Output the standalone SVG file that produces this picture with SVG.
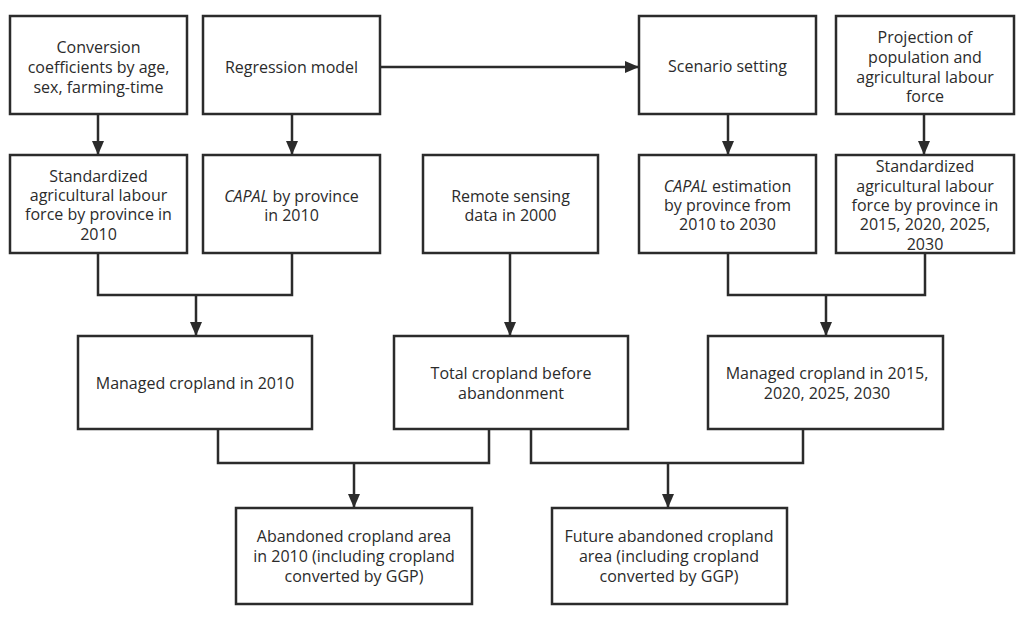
<svg xmlns="http://www.w3.org/2000/svg" width="1017" height="619" viewBox="0 0 1017 619">
<style>
.box{fill:#fff;stroke:#2b2b2b;stroke-width:2.5}
.t{font-family:"Open Sans","Noto Sans",sans-serif;font-size:16px;fill:#2b2b2b;text-anchor:middle}
.c{fill:none;stroke:#2b2b2b;stroke-width:2.5}
.i{font-style:italic}
</style>
<defs>
<marker id="ah" viewBox="0 0 14 12" refX="14" refY="6" markerWidth="5.6" markerHeight="4.8" orient="auto" markerUnits="strokeWidth">
<path d="M0,0 L14,6 L0,12 z" fill="#2b2b2b"/>
</marker>
</defs>
<rect width="1017" height="619" fill="#fff"/>
<g id="connectors">
<path class="c" d="M98,114 V155" marker-end="url(#ah)"/>
<path class="c" d="M292,114 V155" marker-end="url(#ah)"/>
<path class="c" d="M380,67 H639" marker-end="url(#ah)"/>
<path class="c" d="M728,114 V155" marker-end="url(#ah)"/>
<path class="c" d="M924,114 V155" marker-end="url(#ah)"/>
<path class="c" d="M98,253 V295 H292 V253"/>
<path class="c" d="M196,295 V336" marker-end="url(#ah)"/>
<path class="c" d="M510,253 V336" marker-end="url(#ah)"/>
<path class="c" d="M728,253 V295 H925 V253"/>
<path class="c" d="M826,295 V336" marker-end="url(#ah)"/>
<path class="c" d="M218,429 V463 H489 V429"/>
<path class="c" d="M354,463 V508" marker-end="url(#ah)"/>
<path class="c" d="M531,429 V463 H803 V429"/>
<path class="c" d="M668,463 V508" marker-end="url(#ah)"/>
</g>
<g id="n1"><rect class="box" x="10" y="16" width="177" height="98"/>
<text class="t"><tspan x="98.5" y="53">Conversion</tspan><tspan x="98.5" y="73">coefficients by age,</tspan><tspan x="98.5" y="93">sex, farming-time</tspan></text></g>
<g id="n2"><rect class="box" x="203" y="16" width="177" height="98"/>
<text class="t" x="291.5" y="73">Regression model</text></g>
<g id="n3"><rect class="box" x="639" y="16" width="177" height="98"/>
<text class="t" x="727.5" y="72">Scenario setting</text></g>
<g id="n4"><rect class="box" x="836" y="16" width="178" height="98"/>
<text class="t"><tspan x="925" y="43">Projection of</tspan><tspan x="925" y="63">population and</tspan><tspan x="925" y="83">agricultural labour</tspan><tspan x="925" y="102">force</tspan></text></g>
<g id="n5"><rect class="box" x="10" y="155" width="177" height="98"/>
<text class="t"><tspan x="98.5" y="182">Standardized</tspan><tspan x="98.5" y="201">agricultural labour</tspan><tspan x="98.5" y="220">force by province in</tspan><tspan x="98.5" y="240">2010</tspan></text></g>
<g id="n6"><rect class="box" x="203" y="155" width="177" height="98"/>
<text class="t"><tspan x="291.5" y="202"><tspan class="i">CAPAL</tspan> by province</tspan><tspan x="291.5" y="221">in 2010</tspan></text></g>
<g id="n7"><rect class="box" x="423" y="155" width="175" height="98"/>
<text class="t"><tspan x="510.5" y="202">Remote sensing</tspan><tspan x="510.5" y="221">data in 2000</tspan></text></g>
<g id="n8"><rect class="box" x="639" y="155" width="177" height="98"/>
<text class="t"><tspan x="727.5" y="192"><tspan class="i">CAPAL</tspan> estimation</tspan><tspan x="727.5" y="211">by province from</tspan><tspan x="727.5" y="230">2010 to 2030</tspan></text></g>
<g id="n9"><rect class="box" x="836" y="155" width="178" height="98"/>
<text class="t"><tspan x="925" y="172">Standardized</tspan><tspan x="925" y="192">agricultural labour</tspan><tspan x="925" y="211">force by province in</tspan><tspan x="925" y="230">2015, 2020, 2025,</tspan><tspan x="925" y="250">2030</tspan></text></g>
<g id="n10"><rect class="box" x="78" y="336" width="234" height="93"/>
<text class="t" x="195" y="389">Managed cropland in 2010</text></g>
<g id="n11"><rect class="box" x="394" y="336" width="234" height="93"/>
<text class="t"><tspan x="511" y="379">Total cropland before</tspan><tspan x="511" y="399">abandonment</tspan></text></g>
<g id="n12"><rect class="box" x="708" y="336" width="235" height="93"/>
<text class="t"><tspan x="827" y="379">Managed cropland in 2015,</tspan><tspan x="827" y="399">2020, 2025, 2030</tspan></text></g>
<g id="n13"><rect class="box" x="236" y="508" width="236" height="96"/>
<text class="t"><tspan x="354" y="542">Abandoned cropland area</tspan><tspan x="354" y="562">in 2010 (including cropland</tspan><tspan x="354" y="582">converted by GGP)</tspan></text></g>
<g id="n14"><rect class="box" x="552" y="508" width="235" height="96"/>
<text class="t"><tspan x="669" y="542">Future abandoned cropland</tspan><tspan x="669" y="562">area (including cropland</tspan><tspan x="669" y="582">converted by GGP)</tspan></text></g>
</svg>
